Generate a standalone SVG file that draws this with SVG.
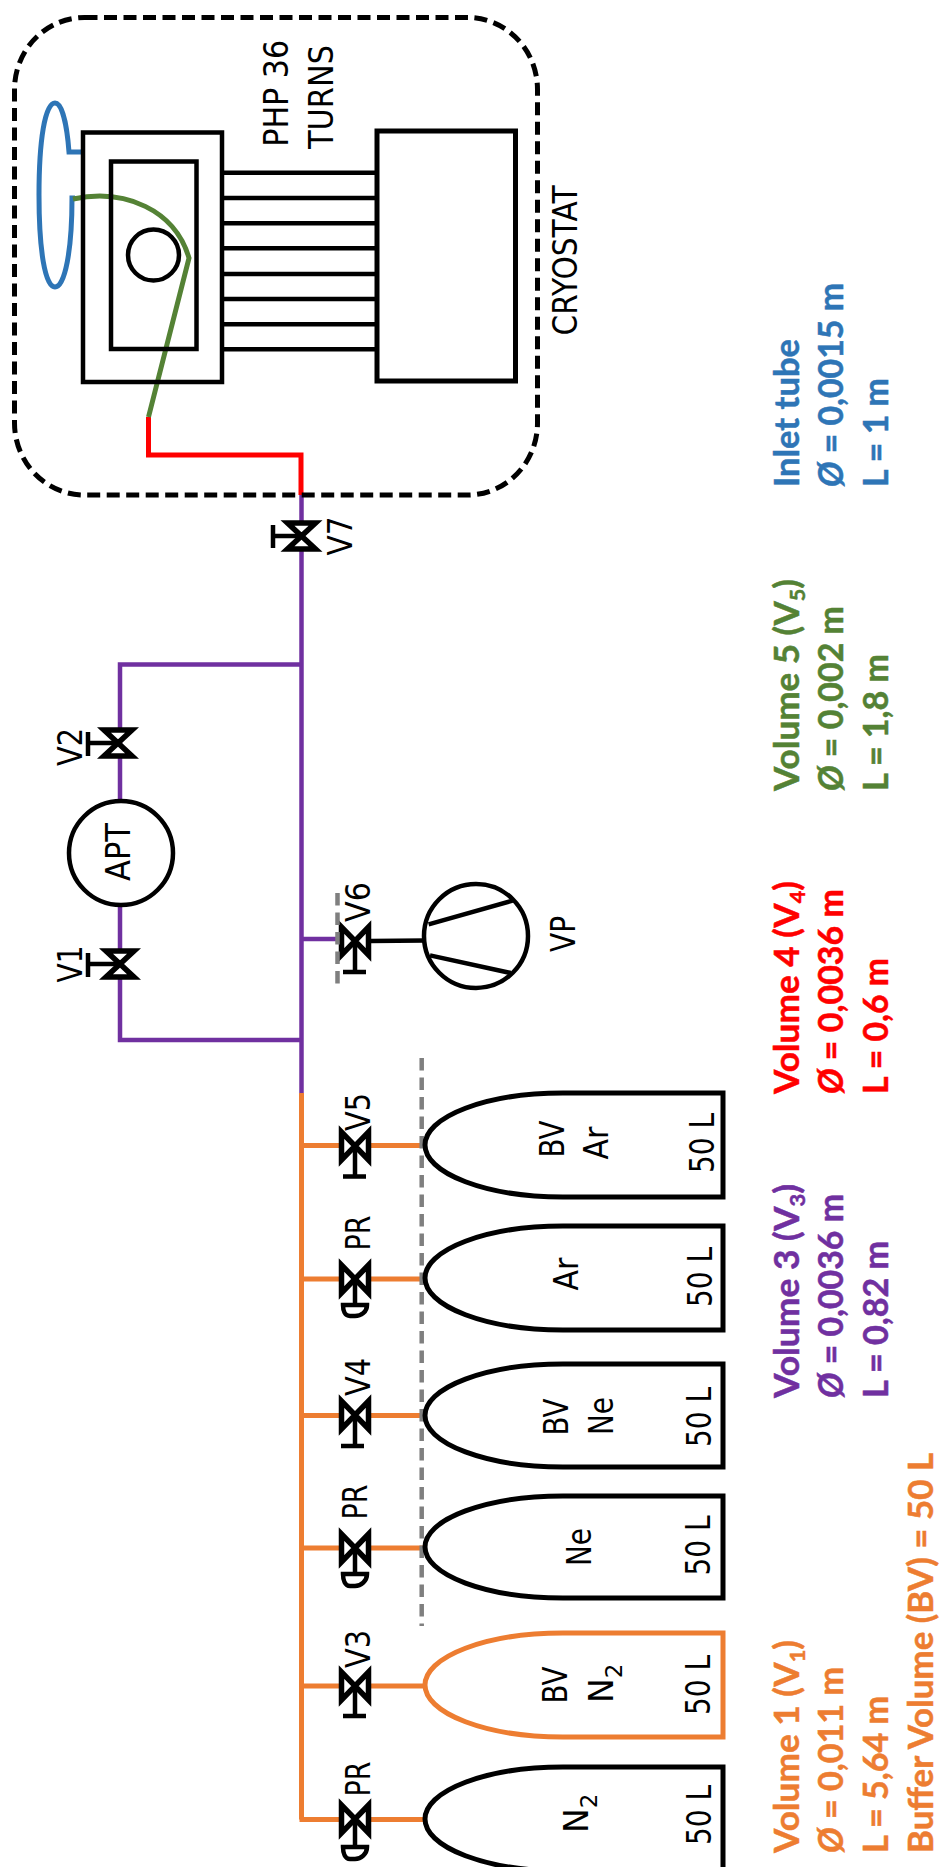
<svg xmlns="http://www.w3.org/2000/svg" width="939" height="1867" viewBox="0 0 939 1867">
<style>
.k{fill:none;stroke:#000;stroke-width:5}
.n{fill:none;stroke:#000;stroke-width:4.5}
.v{fill:#fff;stroke:#000;stroke-width:5.5}
.o{fill:none;stroke:#ed7d31;stroke-width:5}
.p{fill:none;stroke:#7030a0;stroke-width:4.5}
.t{font-family:"DejaVu Sans",sans-serif;font-size:33px;fill:#000;text-anchor:middle}
.s{text-anchor:start}
.l{font-family:"Lato","Liberation Sans",sans-serif;font-weight:700;font-size:34px;stroke-width:.5}
.d{fill:none;stroke:#7f7f7f;stroke-width:4.5;stroke-dasharray:12.5 7}
</style>
<defs>
<path id="hv" class="v" d="M-13.500,-14 V14 L13.500,-14 V14 Z"/>
<path id="vv" class="v" d="M-14,-13 H14 L-14,13 H14 Z"/>
</defs>
<g id="connectors">
<path d="M148.500,417 V455 H301 V495" fill="none" stroke="#ff0000" stroke-width="5"/>
<path class="p" d="M301.500,495 V1093"/>
<path class="p" d="M301.500,664.500 H120 V1040 H301.500"/>
<path class="p" d="M301.500,939 H340"/>
<path class="n" d="M370,941 L425,940.500"/>
<path class="o" d="M301.500,1093 V1819.500 M301.500,1145.500 H423 M301.500,1279 H423 M301.500,1415.500 H423 M301.500,1548 H423 M301.500,1686 H423 M299.500,1819.500 H423"/>
<path d="M83,152 H69 C67,125 62,103 55,103 C45,103 39,140 39,195 C39,250 45,287 55,287 C65,287 72,250 72,198 H75" fill="none" stroke="#2e75b6" stroke-width="5"/>
<path d="M73,199 C125,188 175,210 189,258 L148.500,417" fill="none" stroke="#548235" stroke-width="5"/>
</g>
<g id="cryostat"><rect x="14.500" y="17.500" width="523" height="477.500" rx="70" ry="72" fill="none" stroke="#000" stroke-width="5" stroke-dasharray="13 6.500"/>
<text class="t" transform="translate(576.700,260.500) rotate(-90)" textLength="150" lengthAdjust="spacingAndGlyphs">CRYOSTAT</text></g>
<g id="php">
<rect class="n" x="83" y="132.500" width="139" height="249.500"/>
<rect class="n" x="111" y="161.500" width="85.500" height="187.500"/>
<circle class="n" cx="153.500" cy="255" r="25.500"/>
<rect class="k" x="377" y="131" width="138.500" height="250"/>
<path class="n" d="M222,172.700 H377 M222,198 H377 M222,223.300 H377 M222,248.300 H377 M222,274 H377 M222,299 H377 M222,324.300 H377 M222,349.300 H377"/>
<text class="t" transform="translate(287.500,93.300) rotate(-90)" textLength="107" lengthAdjust="spacingAndGlyphs">PHP 36</text>
<text class="t" transform="translate(333,97) rotate(-90)" textLength="104" lengthAdjust="spacingAndGlyphs">TURNS</text>
</g>
<g id="v7"><path class="n" d="M301.500,536 H273 M273,525 V548"/><use href="#vv" transform="translate(301.500,536)"/><text class="t" transform="translate(352,536) rotate(-90)" textLength="39" lengthAdjust="spacingAndGlyphs">V7</text></g>
<g id="v2"><path class="n" d="M118,743 H88 M88,732 V756"/><use href="#vv" transform="translate(118,743)"/><text class="t" transform="translate(81.500,747) rotate(-90)" textLength="38" lengthAdjust="spacingAndGlyphs">V2</text></g>
<g id="v1"><path class="n" d="M120,964 H88 M88,953 V977"/><use href="#vv" transform="translate(120,964)"/><text class="t" transform="translate(81.500,964) rotate(-90)" textLength="37" lengthAdjust="spacingAndGlyphs">V1</text></g>
<g id="apt"><circle class="n" cx="121" cy="853" r="52" style="fill:#fff"/><text class="t" transform="translate(130,852) rotate(-90)" textLength="58" lengthAdjust="spacingAndGlyphs">APT</text></g>
<g id="v6"><path class="n" d="M355,941 V972 M343,972 H366"/><use href="#hv" transform="translate(355,941)"/><path class="d" d="M337.500,893 V986"/><text class="t" transform="translate(369.600,902) rotate(-90)" textLength="40" lengthAdjust="spacingAndGlyphs">V6</text></g>
<g id="vp"><circle class="n" cx="476" cy="936" r="52"/><path class="n" d="M428.600,924.300 L512.500,900.700 M430,955.400 L510.700,973"/><text class="t" transform="translate(575,934) rotate(-90)" textLength="36" lengthAdjust="spacingAndGlyphs">VP</text></g>
<g id="v5"><path class="n" d="M355,1146 V1176.500 M343,1176.500 H366"/><use href="#hv" transform="translate(355,1146)"/><text class="t" transform="translate(370,1112) rotate(-90)" textLength="38" lengthAdjust="spacingAndGlyphs">V5</text></g>
<g id="pr4"><path class="n" d="M355,1279 V1305 M343,1305 H367 C367,1312 361,1316 355,1316 H350 C345,1316 343,1311 343,1305 Z"/><use href="#hv" transform="translate(355,1279)"/><text class="t" transform="translate(370,1233) rotate(-90)" textLength="35" lengthAdjust="spacingAndGlyphs">PR</text></g>
<g id="v4"><path class="n" d="M355,1415 V1446 M341,1446 H364"/><use href="#hv" transform="translate(355,1415)"/><text class="t" transform="translate(370,1377) rotate(-90)" textLength="38" lengthAdjust="spacingAndGlyphs">V4</text></g>
<g id="pr3"><path class="n" d="M355,1548 V1574 M343,1574 H367 C367,1581 361,1586 355,1586 H350 C345,1586 343,1580 343,1574 Z"/><use href="#hv" transform="translate(355,1548)"/><text class="t" transform="translate(367,1502) rotate(-90)" textLength="35" lengthAdjust="spacingAndGlyphs">PR</text></g>
<g id="v3"><path class="n" d="M355,1686 V1716 M343,1716 H366"/><use href="#hv" transform="translate(355,1686)"/><text class="t" transform="translate(370,1649) rotate(-90)" textLength="38" lengthAdjust="spacingAndGlyphs">V3</text></g>
<g id="pr1"><path class="n" d="M355,1819 V1847 M343,1847 H367 C367,1854 361,1859 355,1859 H350 C345,1859 343,1853 343,1847 Z"/><use href="#hv" transform="translate(355,1819)"/><text class="t" transform="translate(370,1779) rotate(-90)" textLength="35" lengthAdjust="spacingAndGlyphs">PR</text></g>
<g id="sep"><path class="d" d="M421.700,1058 V1626"/></g>
<g id="b6"><path class="k" d="M723,1093 H563 A138,52 0 0 0 563,1197 H723 Z"/><text class="t" transform="translate(564,1139) rotate(-90)" textLength="37" lengthAdjust="spacingAndGlyphs">BV</text><text class="t" transform="translate(608,1143) rotate(-90)" textLength="33" lengthAdjust="spacingAndGlyphs">Ar</text><text class="t" transform="translate(714,1143) rotate(-90)" textLength="60" lengthAdjust="spacingAndGlyphs">50 L</text></g>
<g id="b5"><path class="k" d="M723,1226 H563 A138,52 0 0 0 563,1330 H723 Z"/><text class="t" transform="translate(578,1274) rotate(-90)" textLength="33" lengthAdjust="spacingAndGlyphs">Ar</text><text class="t" transform="translate(712,1277) rotate(-90)" textLength="60" lengthAdjust="spacingAndGlyphs">50 L</text></g>
<g id="b4"><path class="k" d="M723,1364 H563 A138,51.500 0 0 0 563,1467 H723 Z"/><text class="t" transform="translate(568,1417) rotate(-90)" textLength="37" lengthAdjust="spacingAndGlyphs">BV</text><text class="t" transform="translate(613,1416) rotate(-90)" textLength="38" lengthAdjust="spacingAndGlyphs">Ne</text><text class="t" transform="translate(711,1417) rotate(-90)" textLength="60" lengthAdjust="spacingAndGlyphs">50 L</text></g>
<g id="b3"><path class="k" d="M723,1496 H563 A138,51 0 0 0 563,1598 H723 Z"/><text class="t" transform="translate(591,1547) rotate(-90)" textLength="38" lengthAdjust="spacingAndGlyphs">Ne</text><text class="t" transform="translate(710,1545.500) rotate(-90)" textLength="60" lengthAdjust="spacingAndGlyphs">50 L</text></g>
<g id="b2"><path class="o" d="M723,1633 H563 A138,52 0 0 0 563,1737 H723 Z"/><text class="t" transform="translate(567,1685) rotate(-90)" textLength="37" lengthAdjust="spacingAndGlyphs">BV</text><text class="t s" transform="translate(613,1703) rotate(-90)">N<tspan font-size="23" dy="9">2</tspan></text><text class="t" transform="translate(710,1685) rotate(-90)" textLength="60" lengthAdjust="spacingAndGlyphs">50 L</text></g>
<g id="b1"><path class="k" d="M723,1870 V1767 H563 A138,52 0 0 0 563,1871 H723"/><text class="t s" transform="translate(588,1833) rotate(-90)">N<tspan font-size="23" dy="9">2</tspan></text><text class="t" transform="translate(711,1815) rotate(-90)" textLength="60" lengthAdjust="spacingAndGlyphs">50 L</text></g>
<g id="legend" class="l">
<g fill="#2e75b6" stroke="#2e75b6"><text transform="translate(799,487) rotate(-90)" textLength="148" lengthAdjust="spacingAndGlyphs">Inlet tube</text><text transform="translate(843,487) rotate(-90)" textLength="204" lengthAdjust="spacingAndGlyphs"><tspan font-style="italic">Ø</tspan> = 0,0015 m</text><text transform="translate(887.700,487) rotate(-90)" textLength="109" lengthAdjust="spacingAndGlyphs">L = 1 m</text></g>
<g fill="#548235" stroke="#548235"><text transform="translate(799,791) rotate(-90)" textLength="212" lengthAdjust="spacingAndGlyphs">Volume 5 (V<tspan font-size="21" dy="6">5</tspan><tspan dy="-6">)</tspan></text><text transform="translate(843,791) rotate(-90)" textLength="185" lengthAdjust="spacingAndGlyphs"><tspan font-style="italic">Ø</tspan> = 0,002 m</text><text transform="translate(887.700,791) rotate(-90)" textLength="137" lengthAdjust="spacingAndGlyphs">L = 1,8 m</text></g>
<g fill="#ff0000" stroke="#ff0000"><text transform="translate(799,1094) rotate(-90)" textLength="213" lengthAdjust="spacingAndGlyphs">Volume 4 (V<tspan font-size="21" dy="6">4</tspan><tspan dy="-6">)</tspan></text><text transform="translate(843,1094) rotate(-90)" textLength="205" lengthAdjust="spacingAndGlyphs"><tspan font-style="italic">Ø</tspan> = 0,0036 m</text><text transform="translate(887.700,1094) rotate(-90)" textLength="136" lengthAdjust="spacingAndGlyphs">L = 0,6 m</text></g>
<g fill="#7030a0" stroke="#7030a0"><text transform="translate(799,1398) rotate(-90)" textLength="214" lengthAdjust="spacingAndGlyphs">Volume 3 (V<tspan font-size="21" dy="6">3</tspan><tspan dy="-6">)</tspan></text><text transform="translate(843,1398) rotate(-90)" textLength="204" lengthAdjust="spacingAndGlyphs"><tspan font-style="italic">Ø</tspan> = 0,0036 m</text><text transform="translate(887.700,1398) rotate(-90)" textLength="157" lengthAdjust="spacingAndGlyphs">L = 0,82 m</text></g>
<g fill="#ed7d31" stroke="#ed7d31"><text transform="translate(799,1853) rotate(-90)" textLength="213" lengthAdjust="spacingAndGlyphs">Volume 1 (V<tspan font-size="21" dy="6">1</tspan><tspan dy="-6">)</tspan></text><text transform="translate(843,1853) rotate(-90)" textLength="186" lengthAdjust="spacingAndGlyphs"><tspan font-style="italic">Ø</tspan> = 0,011 m</text><text transform="translate(887.700,1853) rotate(-90)" textLength="157" lengthAdjust="spacingAndGlyphs">L = 5,64 m</text><text transform="translate(932.700,1853) rotate(-90)" textLength="400" lengthAdjust="spacingAndGlyphs">Buffer Volume (BV) = 50 L</text></g>
</g>
</svg>
